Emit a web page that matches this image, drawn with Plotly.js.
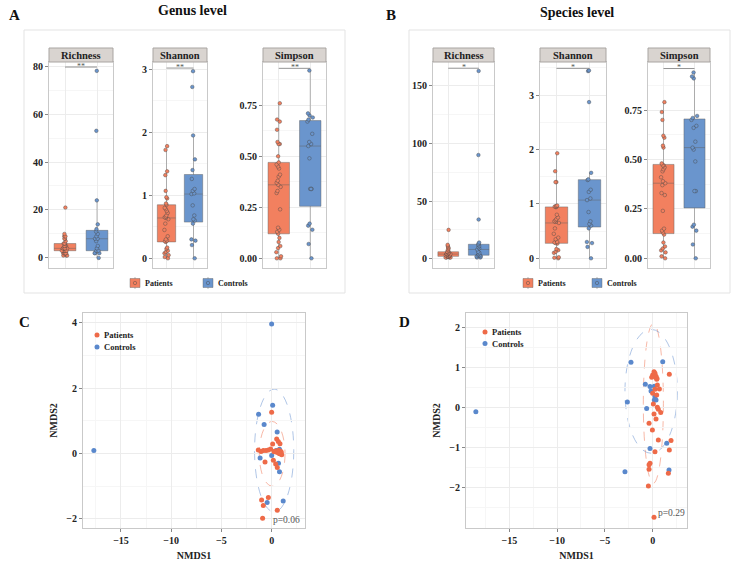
<!DOCTYPE html>
<html><head><meta charset="utf-8">
<script src="https://cdn.plot.ly/plotly-3.0.1.min.js"></script>
<style>html,body{margin:0;padding:0;background:#fff;}#chart{width:738px;height:562px;}</style>
</head><body><div id="chart"></div>
<script>
// ---------------- DATA ----------------
const groups = ["Patients", "Controls"];
const genusRichnessPatients = [21,10,9,9,8,8,7,6,6,6,5,5,5,4,4,4,4,4,4,3,3,3,3,3,3,2,2,2,2,2,1,1,1];
const genusRichnessControls = [78,53,24,14,12,11,10,9,8,8,7,5,4,3,3,2,2,2,0];
const genusShannonPatients = [1.78,1.72,1.38,1.32,1.07,0.97,0.95,0.87,0.85,0.80,0.78,0.75,0.72,0.68,0.66,0.65,0.64,0.62,0.55,0.45,0.35,0.30,0.28,0.27,0.26,0.17,0.15,0.12,0.10,0.08,0.05,0.02,0.00];
const genusShannonControls = [2.97,2.72,1.95,1.57,1.40,1.26,1.10,1.07,1.03,1.02,0.84,0.68,0.62,0.60,0.55,0.30,0.28,0.21,0.00];
const genusSimpsonPatients = [0.76,0.68,0.67,0.63,0.57,0.56,0.56,0.50,0.47,0.46,0.45,0.44,0.41,0.40,0.38,0.37,0.36,0.35,0.33,0.32,0.24,0.15,0.14,0.13,0.12,0.10,0.08,0.06,0.05,0.03,0.01,0.00,0.00];
const genusSimpsonControls = [0.92,0.71,0.70,0.69,0.68,0.67,0.61,0.57,0.56,0.55,0.49,0.34,0.34,0.34,0.17,0.16,0.14,0.07,0.00];
const speciesRichnessPatients = [25,12,11,10,9,8,7,6,6,5,5,5,4,4,4,4,4,3,3,3,3,3,2,2,2,2,2,1,1,1,1];
const speciesRichnessControls = [163,90,34,14,13,12,11,10,9,8,6,5,4,3,3,2,2,1,1];
const speciesShannonPatients = [1.93,1.60,1.40,1.40,0.97,0.96,0.95,0.95,0.94,0.80,0.75,0.72,0.70,0.68,0.67,0.65,0.55,0.45,0.38,0.35,0.30,0.29,0.28,0.27,0.17,0.15,0.12,0.10,0.02,0.01,0.00];
const speciesShannonControls = [3.45,3.44,2.87,1.57,1.45,1.44,1.26,1.22,1.10,1.07,0.85,0.68,0.63,0.60,0.55,0.30,0.28,0.21,0.00];
const speciesSimpsonPatients = [0.79,0.74,0.70,0.62,0.61,0.57,0.56,0.48,0.47,0.47,0.46,0.45,0.44,0.41,0.39,0.38,0.37,0.33,0.32,0.24,0.15,0.14,0.13,0.12,0.08,0.06,0.05,0.04,0.03,0.01,0.00];
const speciesSimpsonControls = [0.94,0.92,0.91,0.72,0.71,0.70,0.67,0.66,0.59,0.56,0.55,0.49,0.34,0.34,0.17,0.16,0.14,0.07,0.00];

// NMDS (genus level, panel C)
const genusNmdsPatientsX = [0.0,0.5,0.66,0.83,0.1,-1.33,-1.06,-0.83,-0.56,-0.33,-0.1,0.23,0.56,0.83,1.0,0.93,0.4,0.7,-0.66,0.17,0.4,0.56,-1.0,-0.33,-0.83,0.56,-0.9,0.3,0.95,0.75];
const genusNmdsPatientsY = [1.26,0.44,0.37,0.30,0.29,0.11,0.06,0.09,0.09,0.11,0.14,0.06,0.03,-0.01,-0.04,0.06,0.08,0.10,-0.26,-0.21,-0.32,-0.43,-1.42,-1.35,-1.59,-1.74,-1.98,0.05,0.02,0.0];
const genusNmdsControlsX = [-17.7,0.0,0.1,-1.3,-0.75,0.55,-1.15,0.0,0.45,0.78,0.68,0.78,1.15,-0.45];
const genusNmdsControlsY = [0.09,3.96,1.48,1.20,0.89,0.66,-0.14,-0.06,0.09,0.13,-0.30,-0.56,-1.45,-1.50];
// NMDS (species level, panel D)
const speciesNmdsPatientsX = [1.74,0.14,0.24,0.0,-0.1,0.35,0.42,0.49,0.7,0.24,0.0,0.42,0.07,0.49,0.59,0.84,0.14,0.35,-0.38,-0.03,0.59,1.92,1.74,0.24,-0.28,-0.38,-0.38,1.64,-0.45,0.14,0.3,0.45];
const speciesNmdsPatientsY = [0.83,0.89,0.85,0.81,0.75,0.78,0.70,0.56,0.46,0.45,0.35,0.31,0.08,0.0,-0.05,-0.13,-0.17,-0.29,-0.40,-0.57,-0.82,-0.83,-1.07,-1.11,-1.40,-1.44,-1.55,-1.65,-1.97,-2.75,0.76,0.72];
const speciesNmdsControlsX = [-18.5,-2.27,1.05,-0.77,-0.28,0.17,-0.17,0.24,0.17,0.35,-2.65,-0.63,-0.28,1.47,-2.9,1.71];
const speciesNmdsControlsY = [-0.11,1.13,1.14,0.58,0.52,0.53,0.41,0.27,0.18,0.18,0.13,-0.03,-1.03,-0.90,-1.61,-1.57];
// 95% ellipses: [centerX, centerY, radiusX, radiusY]
const genusEllipsePatients = [0.05,-0.01,1.28,0.99];
const genusEllipseControls = [0.25,0.09,1.95,1.88];
const speciesEllipsePatients = [0.07,0.10,1.05,2.0];
const speciesEllipseControls = [-0.16,0.40,2.74,1.55];
const pValues = ["p=0.06","p=0.29"];
const sigLabels = ["**","**","**","*","*","*"];
const metricNames = ["Richness","Shannon","Simpson"];

// ---------------- STYLE ----------------
const W = 738, H = 562;
const COL = {Patients:"#F2805F", Controls:"#6A95CD"};
const PT = {Patients:"#EE6A48", Controls:"#5A88CC"};
const SERIF = "Liberation Serif, Times New Roman, serif";
const px = x => x / W;
const py = y => 1 - y / H;

const boxPanels = [
  {x:[49,113], yr:[-4.2,81.7], tv:[0,20,40,60,80], tt:["0","20","40","60","80"], minor:[10,30,50,70], sigY:79.6, p:genusRichnessPatients, c:genusRichnessControls},
  {x:[153,207], yr:[-0.154,3.116], tv:[0,1,2,3], tt:["0","1","2","3"], minor:[0.5,1.5,2.5], sigY:3.02, p:genusShannonPatients, c:genusShannonControls},
  {x:[263,326], yr:[-0.0475,0.962], tv:[0,0.25,0.5,0.75], tt:["0.00","0.25","0.50","0.75"], minor:[0.125,0.375,0.625,0.875], sigY:0.931, p:genusSimpsonPatients, c:genusSimpsonControls},
  {x:[433,494], yr:[-8.1,170.8], tv:[0,50,100,150], tt:["0","50","100","150"], minor:[25,75,125], sigY:165.4, p:speciesRichnessPatients, c:speciesRichnessControls},
  {x:[540,606], yr:[-0.178,3.607], tv:[0,1,2,3], tt:["0","1","2","3"], minor:[0.5,1.5,2.5,3.5], sigY:3.49, p:speciesShannonPatients, c:speciesShannonControls},
  {x:[648,710], yr:[-0.049,0.993], tv:[0,0.25,0.5,0.75], tt:["0.00","0.25","0.50","0.75"], minor:[0.125,0.375,0.625,0.875], sigY:0.96, p:speciesSimpsonPatients, c:speciesSimpsonControls}
];
const BOX_TOP = 62, BOX_BOT = 268, STRIP_TOP = 48;

const traces = [];
const layout = {
  width: W, height: H, margin:{l:0,r:0,t:0,b:0},
  paper_bgcolor:"#fff", plot_bgcolor:"#fff",
  showlegend:false, boxmode:"overlay",
  font:{family:SERIF, color:"#222"},
  shapes:[], annotations:[]
};

function tickFont(sz){ return {family:SERIF, size:sz, color:"#222", weight:"bold"}; }
function ann(text, x, y, o){ return Object.assign({text, x:px(x), y:py(y), xref:"paper", yref:"paper", showarrow:false, xanchor:"center", yanchor:"middle"}, o||{}); }

boxPanels.forEach((bp, i) => {
  const n = i + 1, xa = "x" + n, ya = "y" + n;
  const data = {Patients: bp.p, Controls: bp.c};
  groups.forEach((g, gi) => {
    traces.push({
      type:"box", y:data[g], x0:gi, name:g, xaxis:xa, yaxis:ya, quartilemethod:"inclusive",
      boxpoints:"all", jitter:0.3, pointpos:0, width:0.68, whiskerwidth:0,
      fillcolor:COL[g], line:{color:"rgba(95,95,95,0.45)", width:1},
      marker:{color:COL[g], size:3.6, line:{color:"rgba(70,70,70,0.85)", width:0.5}},
      hoverinfo:"y"
    });
  });
  layout["xaxis" + n] = {domain:[px(bp.x[0]), px(bp.x[1])], anchor:ya, range:[-0.5,1.5],
    tickvals:[0,1], showticklabels:false, ticks:"", showgrid:true, gridcolor:"#ececec",
    zeroline:false, showline:true, mirror:true, linecolor:"#c9c9c9", linewidth:1, fixedrange:true};
  layout["yaxis" + n] = {domain:[py(BOX_BOT), py(BOX_TOP)], anchor:xa, range:bp.yr,
    tickmode:"array", tickvals:bp.tv, ticktext:bp.tt, ticks:"outside", ticklen:3, tickcolor:"#888",
    tickfont:tickFont(10), showgrid:true, gridcolor:"#ececec",
    minor:{tickmode:"array", tickvals:bp.minor, showgrid:true, gridcolor:"#f6f6f6", ticks:""},
    zeroline:false, showline:true, mirror:true, linecolor:"#c9c9c9", linewidth:1, fixedrange:true};
  // strip header
  layout.shapes.push({type:"rect", xref:"paper", yref:"paper", x0:px(bp.x[0]), x1:px(bp.x[1]),
    y0:py(BOX_TOP), y1:py(STRIP_TOP), fillcolor:"#D9D4D0", line:{color:"#a9a5a2", width:1}});
  layout.annotations.push(ann(metricNames[i % 3], (bp.x[0] + bp.x[1]) / 2, (STRIP_TOP + BOX_TOP) / 2 + 0.5,
    {font:{family:SERIF, size:10.5, color:"#222", weight:"bold"}}));
  // significance bracket
  layout.shapes.push({type:"line", xref:xa, yref:ya, x0:0, x1:1, y0:bp.sigY, y1:bp.sigY, line:{color:"#777", width:0.8}});
  layout.annotations.push({text:sigLabels[i], xref:xa, yref:ya, x:0.5, y:bp.sigY, showarrow:false,
    yanchor:"middle", yshift:1, borderpad:0, font:{family:SERIF, size:8, color:"#555"}});
});

// NMDS panels
const nmds = [
  {n:7, x:[83,305], xr:[-18.78,3.32], yr:[-2.28,4.3], ytv:[-2,0,2,4], ytt:["−2","0","2","4"], yminor:[-1,1,3],
   p:[genusNmdsPatientsX, genusNmdsPatientsY], c:[genusNmdsControlsX, genusNmdsControlsY],
   ep:genusEllipsePatients, ec:genusEllipseControls, leg:[97,335,347], pv:pValues[0], pvPos:[286,520]},
  {n:8, x:[466,687], xr:[-19.53,3.59], yr:[-3.02,2.36], ytv:[-2,-1,0,1,2], ytt:["−2","−1","0","1","2"], yminor:[-2.5,-1.5,-0.5,0.5,1.5],
   p:[speciesNmdsPatientsX, speciesNmdsPatientsY], c:[speciesNmdsControlsX, speciesNmdsControlsY],
   ep:speciesEllipsePatients, ec:speciesEllipseControls, leg:[485,332,343.5], pv:pValues[1], pvPos:[671,513]}
];
nmds.forEach(pn => {
  const xa = "x" + pn.n, ya = "y" + pn.n;
  [["Controls", pn.c], ["Patients", pn.p]].forEach(([g, d]) => {
    traces.push({type:"scatter", mode:"markers", x:d[0], y:d[1], name:g, xaxis:xa, yaxis:ya,
      marker:{color:PT[g], size:5}});
  });
  [["Patients", pn.ep, "rgba(240,125,95,0.55)"], ["Controls", pn.ec, "rgba(110,150,210,0.55)"]].forEach(([g, e, col]) => {
    layout.shapes.push({type:"circle", xref:xa, yref:ya, x0:e[0]-e[2], x1:e[0]+e[2], y0:e[1]-e[3], y1:e[1]+e[3],
      line:{color:col, width:1, dash:"dash"}, layer:"below"});
  });
  layout["xaxis" + pn.n] = {domain:[px(pn.x[0]), px(pn.x[1])], anchor:ya, range:pn.xr,
    tickmode:"array", tickvals:[-15,-10,-5,0], ticktext:["−15","−10","−5","0"], ticks:"outside", ticklen:3, tickcolor:"#888",
    tickfont:tickFont(10), showgrid:true, gridcolor:"#ececec",
    minor:{tickmode:"array", tickvals:[-17.5,-12.5,-7.5,-2.5,2.5], showgrid:true, gridcolor:"#f6f6f6", ticks:""},
    zeroline:false, showline:true, mirror:true, linecolor:"#c9c9c9", linewidth:1, fixedrange:true,
    title:{text:"NMDS1", font:{family:SERIF, size:10, color:"#222", weight:"bold"}, standoff:6}};
  layout["yaxis" + pn.n] = {domain:[py(528), py(313)], anchor:xa, range:pn.yr,
    tickmode:"array", tickvals:pn.ytv, ticktext:pn.ytt, ticks:"outside", ticklen:3, tickcolor:"#888",
    tickfont:tickFont(10), showgrid:true, gridcolor:"#ececec",
    minor:{tickmode:"array", tickvals:pn.yminor, showgrid:true, gridcolor:"#f6f6f6", ticks:""},
    zeroline:false, showline:true, mirror:true, linecolor:"#c9c9c9", linewidth:1, fixedrange:true,
    title:{text:"NMDS2", font:{family:SERIF, size:10, color:"#222", weight:"bold"}, standoff:6}};
  // legend keys (dot + label)
  [["Patients", pn.leg[1]], ["Controls", pn.leg[2]]].forEach(([g, yy]) => {
    const r = 2.5, cx = pn.leg[0];
    layout.shapes.push({type:"circle", xref:"paper", yref:"paper", x0:px(cx - r), x1:px(cx + r), y0:py(yy + r), y1:py(yy - r),
      fillcolor:PT[g], line:{width:0}});
    layout.annotations.push(ann(g, cx + 5, yy, {xanchor:"left", font:{family:SERIF, size:8.5, color:"#222", weight:"bold"}}));
  });
  layout.annotations.push(ann(pn.pv, pn.pvPos[0], pn.pvPos[1], {font:{family:SERIF, size:9.5, color:"#555"}}));
});

// box legends (A, B): [boxLeft, y] for Patients and Controls
const boxLegends = [[[130,283],[203,283]], [[523,283],[592,283]]];
boxLegends.forEach(items => {
  items.forEach(([x0, yy], gi) => {
    const g = groups[gi];
    layout.shapes.push({type:"line", xref:"paper", yref:"paper", x0:px(x0 + 5), x1:px(x0 + 5), y0:py(yy + 6), y1:py(yy - 6), line:{color:"#bbb", width:1}});
    layout.shapes.push({type:"rect", xref:"paper", yref:"paper", x0:px(x0), x1:px(x0 + 10), y0:py(yy + 4.5), y1:py(yy - 4.5),
      fillcolor:COL[g], line:{color:"rgba(95,95,95,0.5)", width:0.8}});
    layout.shapes.push({type:"circle", xref:"paper", yref:"paper", x0:px(x0 + 3.3), x1:px(x0 + 6.7), y0:py(yy + 1.7), y1:py(yy - 1.7),
      fillcolor:COL[g], line:{color:"rgba(70,70,70,0.85)", width:0.5}});
    layout.annotations.push(ann(g, x0 + 13, yy, {xanchor:"left", font:{family:SERIF, size:8, color:"#222", weight:"bold"}}));
  });
});

// panel frames
layout.shapes.push({type:"rect", xref:"paper", yref:"paper", x0:px(24), x1:px(345), y0:py(293), y1:py(30), line:{color:"#e3e3e3", width:1}, layer:"below"});
layout.shapes.push({type:"rect", xref:"paper", yref:"paper", x0:px(409), x1:px(730), y0:py(293), y1:py(30), line:{color:"#e3e3e3", width:1}, layer:"below"});

// titles and panel letters
const bold = (sz) => ({family:SERIF, size:sz, color:"#111", weight:"bold"});
layout.annotations.push(ann("Genus level", 193, 11, {font:bold(14)}));
layout.annotations.push(ann("Species level", 577, 13, {font:bold(14)}));
layout.annotations.push(ann("A", 14, 15, {font:bold(15)}));
layout.annotations.push(ann("B", 391, 15, {font:bold(15)}));
layout.annotations.push(ann("C", 25, 322, {font:bold(15)}));
layout.annotations.push(ann("D", 404, 322, {font:bold(15)}));

Plotly.newPlot("chart", traces, layout, {displayModeBar:false, staticPlot:true});
</script></body></html>
